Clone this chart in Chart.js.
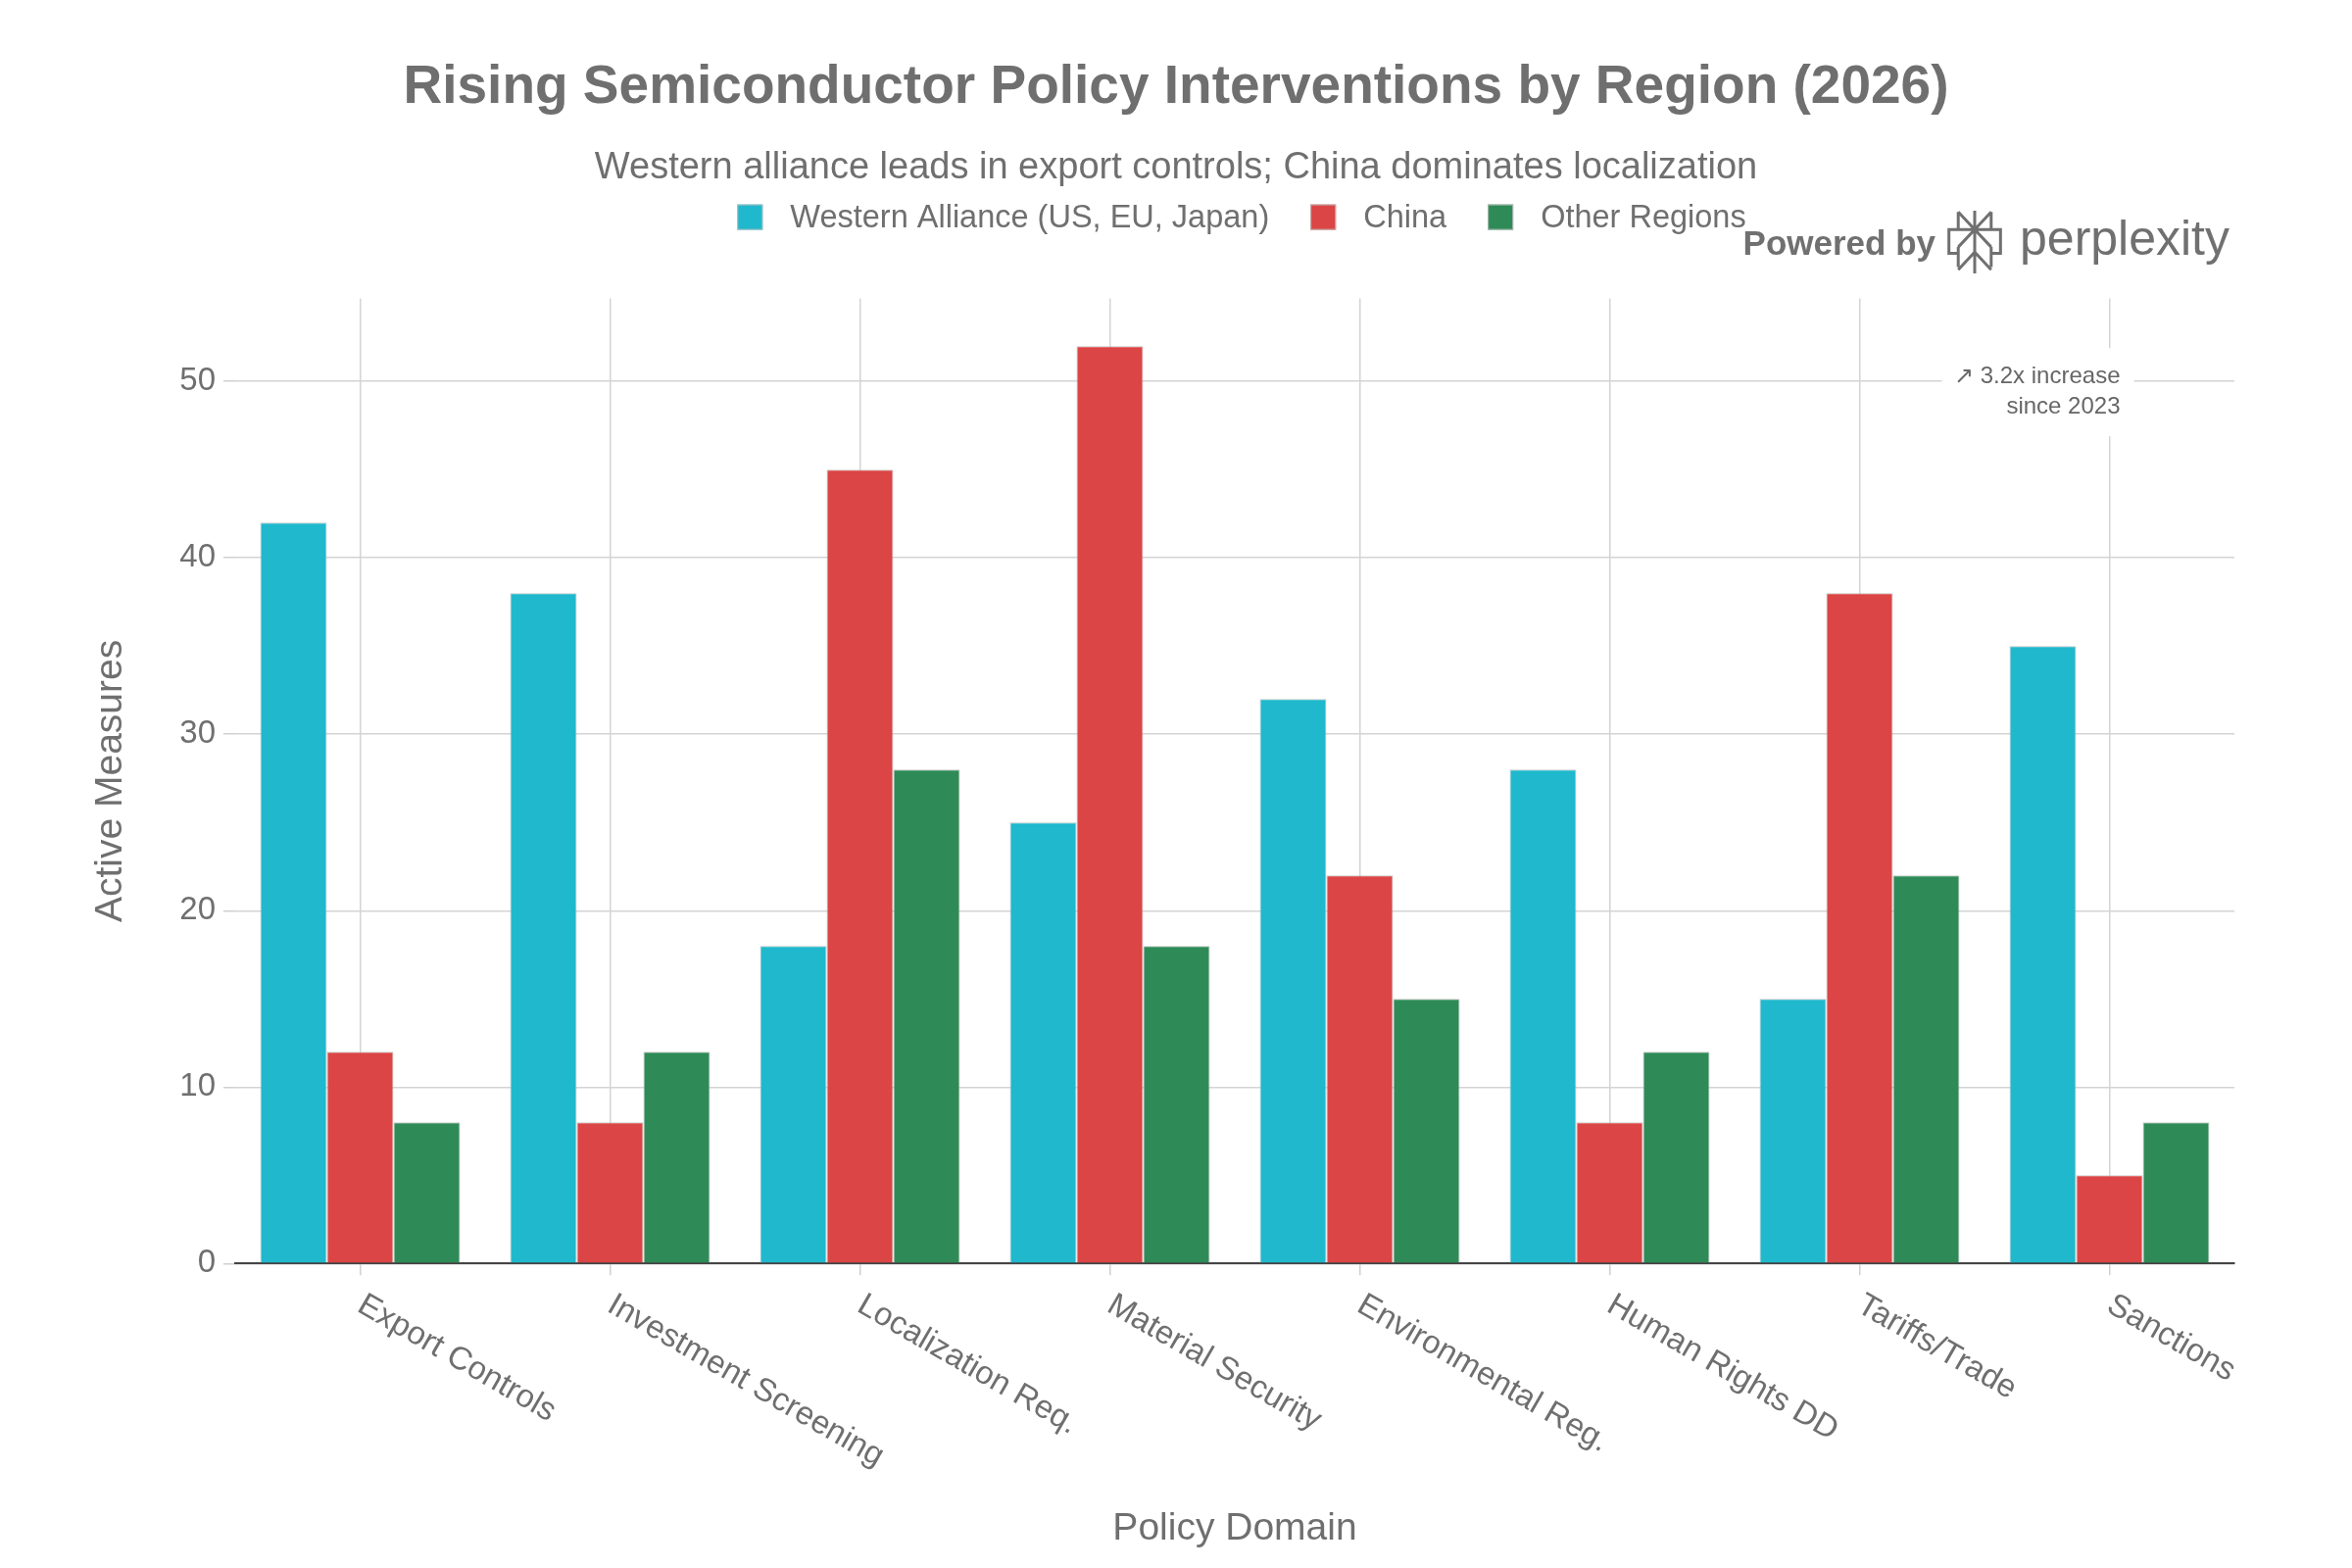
<!DOCTYPE html>
<html>
<head>
<meta charset="utf-8">
<script src="https://cdn.jsdelivr.net/npm/chart.js@4.4.1/dist/chart.umd.min.js"></script>
<style>
  html, body { margin: 0; padding: 0; background: #ffffff; }
  #wrap { width: 2400px; height: 1600px; }
</style>
</head>
<body>
<div id="wrap"><canvas id="c" width="2400" height="1600"></canvas></div>
<script>
// ---- data ----
const categories = ["Export Controls", "Investment Screening", "Localization Req.", "Material Security",
                    "Environmental Reg.", "Human Rights DD", "Tariffs/Trade", "Sanctions"];
const seriesNames = ["Western Alliance (US, EU, Japan)", "China", "Other Regions"];
const westernValues = [42, 38, 18, 25, 32, 28, 15, 35];
const chinaValues   = [12, 8, 45, 52, 22, 8, 38, 5];
const otherValues   = [8, 12, 28, 18, 15, 12, 22, 8];
const seriesColors  = ["#1FB8CD", "#DB4545", "#2E8B57"];
const yAxisMax = 54.7;
const yTickStep = 10;
const titleText = "Rising Semiconductor Policy Interventions by Region (2026)";
const subtitleText = "Western alliance leads in export controls; China dominates localization";
const xAxisTitle = "Policy Domain";
const yAxisTitle = "Active Measures";
const annotationLines = ["\u2197 3.2x increase", "since 2023"];
const annotationCategoryIndex = 7;
const annotationValue = 50;

const FONT = "'Liberation Sans', Arial, Helvetica, sans-serif";
const TEXT = "#6f6f6f";

// custom legend
const legendPlugin = {
  id: 'customLegend',
  afterDraw(chart) {
    const ctx = chart.ctx;
    const ca = chart.chartArea;
    ctx.save();
    ctx.font = `32.5px ${FONT}`;
    const box = 26, gapText = 28, gapItem = 42;
    const items = chart.data.datasets.map(d => ({ label: d.label, color: d.backgroundColor }));
    const widths = items.map(it => box + gapText + ctx.measureText(it.label).width);
    const total = widths.reduce((a, b) => a + b, 0) + gapItem * (items.length - 1);
    let x = (ca.left + ca.right) / 2 + 7 - total / 2;
    const yc = ca.top - 83;
    items.forEach((it, i) => {
      ctx.fillStyle = it.color;
      ctx.fillRect(x, yc - box / 2, box, box);
      ctx.strokeStyle = 'rgba(190,190,190,0.9)';
      ctx.lineWidth = 1;
      ctx.strokeRect(x + 0.5, yc - box / 2 + 0.5, box - 1, box - 1);
      ctx.fillStyle = TEXT;
      ctx.textAlign = 'left';
      ctx.textBaseline = 'middle';
      ctx.fillText(it.label, x + box + gapText, yc + 1);
      x += widths[i] + gapItem;
    });
    ctx.restore();
  }
};

// rotated category labels
const xLabelPlugin = {
  id: 'xLabels',
  afterDraw(chart) {
    const ctx = chart.ctx;
    const xs = chart.scales.x;
    ctx.save();
    ctx.font = `33px ${FONT}`;
    ctx.fillStyle = TEXT;
    ctx.textAlign = 'left';
    ctx.textBaseline = 'middle';
    chart.data.labels.forEach((lab, i) => {
      const px = xs.getPixelForTick(i);
      const py = xs.top + 40;
      ctx.save();
      ctx.translate(px, py);
      ctx.rotate(Math.PI / 6);
      ctx.fillText(lab, 0, 0);
      ctx.restore();
    });
    ctx.restore();
  }
};

// annotation with white background
const annotationPlugin = {
  id: 'annot',
  afterDatasetsDraw(chart) {
    const ctx = chart.ctx;
    const cx = chart.scales.x.getPixelForValue(annotationCategoryIndex);
    const cy = chart.scales.y.getPixelForValue(annotationValue);
    ctx.save();
    ctx.fillStyle = '#ffffff';
    ctx.fillRect(cx - 171, cy - 34, 196, 90);
    ctx.font = `24px ${FONT}`;
    ctx.fillStyle = '#666666';
    ctx.textAlign = 'right';
    ctx.textBaseline = 'middle';
    ctx.fillText(annotationLines[0], cx + 11, cy - 5);
    ctx.fillText(annotationLines[1], cx + 11, cy + 26);
    ctx.restore();
  }
};

// "Powered by perplexity" badge
const logoPlugin = {
  id: 'logo',
  afterDraw(chart) {
    const ctx = chart.ctx;
    const W = chart.width;
    ctx.save();
    ctx.fillStyle = '#707070';
    ctx.strokeStyle = '#707070';
    ctx.textBaseline = 'alphabetic';
    ctx.textAlign = 'right';
    ctx.font = `50px ${FONT}`;
    const right = W - 125;
    ctx.fillText('perplexity', right, 260);
    const pw = ctx.measureText('perplexity').width;
    const ix = right - pw - 18 - 56, iy = 215, iw = 56, ih = 64;
    ctx.lineWidth = 3;
    ctx.lineJoin = 'miter';
    ctx.beginPath();
    const P = (a, b) => [ix + a * iw, iy + b * ih];
    const seg = (p, q) => { ctx.moveTo(...P(...p)); ctx.lineTo(...P(...q)); };
    seg([0.5, 0], [0.5, 1]);
    seg([0.2, 0.02], [0.2, 0.3]); seg([0.8, 0.02], [0.8, 0.3]);
    seg([0.2, 0.02], [0.5, 0.3]); seg([0.8, 0.02], [0.5, 0.3]);
    ctx.moveTo(...P(0.2, 0.3)); ctx.lineTo(...P(0.03, 0.3)); ctx.lineTo(...P(0.03, 0.68)); ctx.lineTo(...P(0.2, 0.68));
    ctx.moveTo(...P(0.8, 0.3)); ctx.lineTo(...P(0.97, 0.3)); ctx.lineTo(...P(0.97, 0.68)); ctx.lineTo(...P(0.8, 0.68));
    seg([0.2, 0.3], [0.8, 0.3]);
    seg([0.5, 0.3], [0.2, 0.58]); seg([0.5, 0.3], [0.8, 0.58]);
    seg([0.2, 0.58], [0.2, 0.9]); seg([0.8, 0.58], [0.8, 0.9]);
    seg([0.5, 0.66], [0.2, 0.94]); seg([0.5, 0.66], [0.8, 0.94]);
    ctx.stroke();
    ctx.font = `bold 35px ${FONT}`;
    ctx.fillText('Powered by', ix - 12, 260);
    ctx.restore();
  }
};

const ctx = document.getElementById('c').getContext('2d');
new Chart(ctx, {
  type: 'bar',
  data: {
    labels: categories,
    datasets: [
      { label: seriesNames[0], data: westernValues, backgroundColor: seriesColors[0] },
      { label: seriesNames[1], data: chinaValues, backgroundColor: seriesColors[1] },
      { label: seriesNames[2], data: otherValues, backgroundColor: seriesColors[2] }
    ]
  },
  options: {
    responsive: false,
    devicePixelRatio: 1,
    animation: false,
    layout: { padding: { top: 0, right: 0, bottom: 0, left: 0 } },
    datasets: {
      bar: {
        categoryPercentage: 0.8,
        barPercentage: 1.0,
        borderWidth: 1,
        borderColor: 'rgba(185,185,185,0.8)'
      }
    },
    plugins: {
      legend: { display: false },
      tooltip: { enabled: false },
      title: {
        display: true,
        text: titleText,
        color: TEXT,
        font: { family: FONT, size: 55, weight: 'bold' },
        padding: { top: 57, bottom: 0 }
      },
      subtitle: {
        display: true,
        text: subtitleText,
        color: TEXT,
        font: { family: FONT, size: 38 },
        padding: { top: 26, bottom: 110 }
      }
    },
    scales: {
      x: {
        grid: { display: true, offset: false, color: '#d4d4d4', lineWidth: 1.5, tickLength: 12, tickColor: '#d0d0d0' },
        border: { display: true, color: '#444444', width: 2 },
        ticks: { display: false },
        title: {
          display: true, text: xAxisTitle, color: TEXT,
          font: { family: FONT, size: 39 },
          padding: { top: 0, bottom: 16 }
        },
        afterFit(scale) { scale.height = 310.7; }
      },
      y: {
        min: 0,
        max: yAxisMax,
        grid: { color: '#d4d4d4', lineWidth: 1.5, tickLength: 12, tickColor: '#d0d0d0' },
        border: { display: false },
        ticks: {
          stepSize: yTickStep,
          includeBounds: false,
          padding: 8,
          color: TEXT,
          font: { family: FONT, size: 33 }
        },
        title: {
          display: true, text: yAxisTitle, color: TEXT,
          font: { family: FONT, size: 39 },
          padding: { top: 90, bottom: 0 }
        },
        afterFit(scale) { scale.width = 240; }
      },
      rightMargin: {
        type: 'linear',
        position: 'right',
        display: true,
        grid: { display: false, drawTicks: false },
        border: { display: false },
        ticks: { display: false },
        afterFit(scale) { scale.width = 120; }
      }
    }
  },
  plugins: [legendPlugin, xLabelPlugin, annotationPlugin, logoPlugin]
});
</script>
</body>
</html>
